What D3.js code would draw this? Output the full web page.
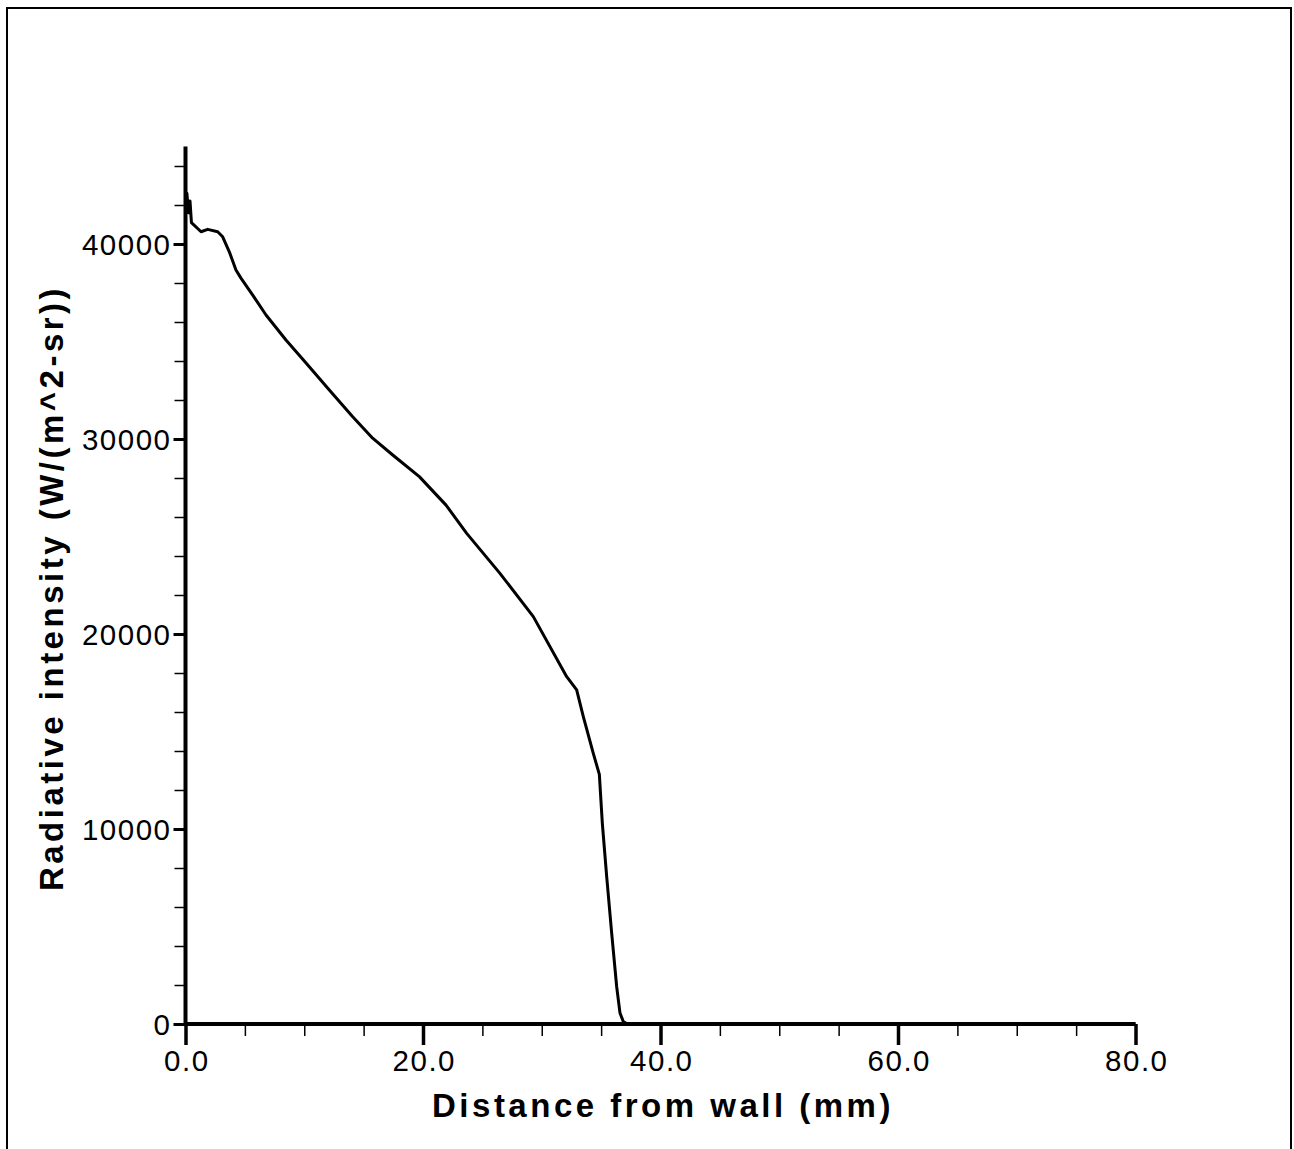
<!DOCTYPE html>
<html>
<head>
<meta charset="utf-8">
<script src="https://cdn.jsdelivr.net/npm/d3@7"></script>
<style>
  body { margin: 0; background: #fff; }
</style>
</head>
<body>
<svg id="chart" width="1294" height="1149"></svg>
<script>
// distance from wall (mm) and radiative intensity
let distance = [0.0, 0.12, 0.25, 0.38, 0.5, 1.31, 1.87, 2.71, 3.13, 3.69, 4.25, 4.67, 5.66, 6.78, 8.46,
    10.15, 12.11, 14.08, 15.76, 17.45, 19.69, 21.94, 23.68, 26.48, 29.29, 32.10, 32.94, 33.5, 34.34,
    34.85, 35.1, 35.47, 35.89, 36.31, 36.59, 36.87, 37.2, 80.0];
let intensity = [41500, 42600, 41600, 42200, 41100, 40630, 40750, 40630, 40370, 39600, 38670, 38250, 37380, 36360, 35080,
    33900, 32510, 31140, 30040, 29180, 28070, 26610, 25160, 23110, 20890, 17810, 17130, 15760, 13880,
    12800, 10300, 7550, 4650, 1910, 560, 120, 0, 0];

let xMajor = [0, 20, 40, 60, 80];
let xMinor = [5, 10, 15, 25, 30, 35, 45, 50, 55, 65, 70, 75];
let yMajor = [0, 10000, 20000, 30000, 40000];
let yMinor = [2000, 4000, 6000, 8000, 12000, 14000, 16000, 18000, 22000, 24000, 26000, 28000,
    32000, 34000, 36000, 38000, 42000, 44000];

let data = distance.map((d, i) => ({ x: d, y: intensity[i] }));

let canvas = d3.select("#chart");

let plotLeft = 185.5;
let plotRight = 1135.5;
let plotTop = 146.5;
let plotBottom = 1024;

// outer frame
canvas.append("rect")
    .attr("x", 7)
    .attr("y", 8)
    .attr("width", 1284)
    .attr("height", 1170)
    .attr("fill", "none")
    .attr("stroke", "#000")
    .attr("stroke-width", 2);

let x = d3.scaleLinear().domain([0, 80]).range([plotLeft, plotRight]);
let y = d3.scaleLinear().domain([0, 45000]).range([plotBottom, plotTop]);

let tickFont = "'Liberation Sans', Arial, sans-serif";

// x minor ticks
canvas.append("g")
    .attr("transform", "translate(0," + plotBottom + ")")
    .call(d3.axisBottom(x).tickValues(xMinor).tickSize(12).tickSizeOuter(0).tickFormat(""))
    .call(g => g.select(".domain").remove())
    .call(g => g.selectAll("line").attr("stroke", "#000").attr("stroke-width", 1.5));

// x major ticks
canvas.append("g")
    .attr("id", "xAxis")
    .attr("transform", "translate(0," + plotBottom + ")")
    .call(d3.axisBottom(x).tickValues(xMajor).tickSize(21).tickSizeOuter(0).tickFormat(d3.format(".1f")))
    .call(g => g.select(".domain").remove())
    .call(g => g.selectAll("line").attr("stroke", "#000").attr("stroke-width", 3.5))
    .call(g => g.selectAll("text")
        .attr("y", 47)
        .attr("dy", 0)
        .attr("dx", 0.8)
        .attr("fill", "#000")
        .style("font-family", tickFont)
        .style("font-size", "29.5px")
        .style("letter-spacing", "1.5px"));

// y minor ticks
canvas.append("g")
    .attr("transform", "translate(" + plotLeft + ",0)")
    .call(d3.axisLeft(y).tickValues(yMinor).tickSize(11).tickSizeOuter(0).tickFormat(""))
    .call(g => g.select(".domain").remove())
    .call(g => g.selectAll("line").attr("stroke", "#000").attr("stroke-width", 1.5));

// y major ticks
canvas.append("g")
    .attr("id", "yAxis")
    .attr("transform", "translate(" + plotLeft + ",0)")
    .call(d3.axisLeft(y).tickValues(yMajor).tickSize(12).tickSizeOuter(0).tickFormat(d3.format("d")))
    .call(g => g.select(".domain").remove())
    .call(g => g.selectAll("line").attr("stroke", "#000").attr("stroke-width", 3))
    .call(g => g.selectAll("text")
        .attr("x", -14)
        .attr("dy", "0.36em")
        .attr("fill", "#000")
        .style("font-family", tickFont)
        .style("font-size", "29.5px")
        .style("letter-spacing", "1.5px"));

// axis lines
canvas.append("line")
    .attr("x1", plotLeft).attr("x2", plotRight)
    .attr("y1", plotBottom).attr("y2", plotBottom)
    .attr("stroke", "#000").attr("stroke-width", 4);
canvas.append("line")
    .attr("x1", plotLeft).attr("x2", plotLeft)
    .attr("y1", plotTop).attr("y2", plotBottom + 2)
    .attr("stroke", "#000").attr("stroke-width", 4);

// the curve
let line = d3.line()
    .x(d => x(d.x))
    .y(d => y(d.y));

canvas.append("path")
    .datum(data)
    .attr("d", line)
    .attr("fill", "none")
    .attr("stroke", "#000")
    .attr("stroke-width", 3)
    .attr("stroke-linejoin", "round");

canvas.append("text")
    .attr("id", "xLabel")
    .attr("text-anchor", "middle")
    .attr("x", 663)
    .attr("y", 1117)
    .style("font-family", tickFont)
    .style("font-weight", "bold")
    .style("font-size", "33px")
    .style("letter-spacing", "3.5px")
    .text("Distance from wall (mm)");

canvas.append("text")
    .attr("id", "yLabel")
    .attr("text-anchor", "middle")
    .attr("transform", "translate(63,588) rotate(-90)")
    .style("font-family", tickFont)
    .style("font-weight", "bold")
    .style("font-size", "33px")
    .style("letter-spacing", "3.5px")
    .text("Radiative intensity (W/(m^2-sr))");
</script>
</body>
</html>
